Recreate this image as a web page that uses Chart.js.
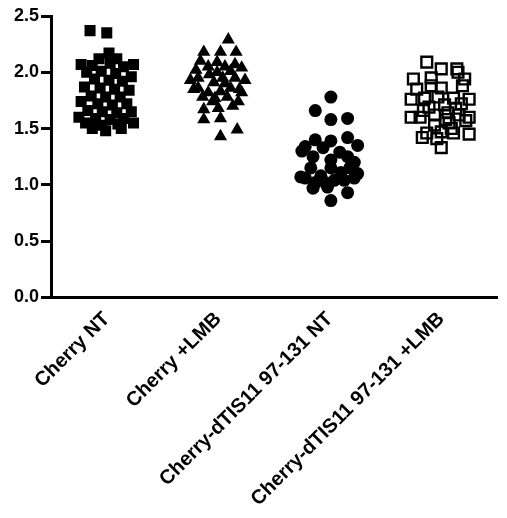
<!DOCTYPE html>
<html>
<head>
<meta charset="utf-8">
<script src="https://cdn.jsdelivr.net/npm/chart.js@4/dist/chart.umd.min.js"></script>
<style>
html,body{margin:0;padding:0;background:#fff;}
#wrap{width:507px;height:518px;}
</style>
</head>
<body>
<div id="wrap"><canvas id="c" width="507" height="518"></canvas></div>
<script>
const categories = ["Cherry NT", "Cherry +LMB", "Cherry-dTIS11 97-131 NT", "Cherry-dTIS11 97-131 +LMB"];
const yTicks = [0, 0.5, 1.0, 1.5, 2.0, 2.5];

// Cherry NT (filled squares)
const cherryNT = [2.37,2.35,2.17,2.12,2.12,2.07,2.06,2.08,2.05,2.07,2.00,2.01,1.99,1.96,1.94,1.93,1.92,1.87,1.86,1.85,1.84,1.79,1.78,1.78,1.74,1.72,1.71,1.72,1.66,1.65,1.64,1.65,1.60,1.59,1.58,1.59,1.55,1.53,1.54,1.55,1.48,1.50,1.50];
const cherryNTJitter = [-0.15,0.00,0.02,-0.07,0.09,-0.23,-0.13,0.03,0.15,0.24,-0.18,-0.05,0.08,0.22,-0.11,0.02,0.14,-0.20,-0.06,0.07,0.20,-0.14,-0.01,0.12,-0.23,-0.08,0.05,0.18,-0.17,-0.04,0.09,0.22,-0.25,-0.10,0.03,0.15,-0.19,-0.05,0.10,0.24,-0.01,-0.13,0.13];

// Cherry +LMB (filled triangles)
const cherryLMB = [2.29,2.18,2.18,2.18,2.02,2.05,2.09,2.05,2.04,1.86,1.91,1.95,1.95,1.82,1.83,1.86,1.85,1.85,1.78,1.77,1.78,1.82,1.74,1.74,1.67,1.68,1.58,1.59,1.49,1.43,1.95,2.00,2.01,2.07,2.10,1.93,1.93,1.90,1.98,1.70];
const cherryLMBJitter = [0.09,-0.13,0.02,0.16,-0.20,-0.09,-0.01,0.06,0.21,-0.18,-0.04,0.04,0.15,-0.09,0.02,0.11,0.19,-0.22,-0.14,-0.03,0.08,0.21,-0.05,0.18,-0.13,0.00,-0.13,0.02,0.17,0.02,-0.18,-0.01,0.11,0.15,-0.16,0.24,-0.25,0.06,-0.08,0.13];

// Cherry-dTIS11 97-131 NT (filled circles)
const dtisNT = [1.78,1.66,1.58,1.59,1.34,1.40,1.39,1.42,1.33,1.29,1.25,1.22,1.25,1.15,1.08,1.15,1.11,1.15,1.06,1.02,1.02,1.04,1.04,1.06,0.97,0.98,0.93,0.86,1.35,1.10,1.20,1.07,1.30];
const dtisNTJitter = [0.01,-0.13,0.01,0.16,-0.22,-0.13,0.01,0.16,-0.06,0.09,-0.15,0.01,0.16,-0.17,-0.08,0.01,0.10,0.18,-0.22,-0.13,-0.04,0.04,0.13,0.22,-0.15,-0.02,0.16,0.01,0.25,0.25,0.22,-0.26,-0.25];

// Cherry-dTIS11 97-131 +LMB (open squares)
const dtisLMB = [2.09,2.03,2.03,1.94,1.94,1.77,1.86,1.77,1.60,1.62,1.64,1.62,1.46,1.47,1.46,1.33,1.69,1.71,1.53,1.55,1.42,1.76,1.60,1.45,1.88,1.72,1.57,1.76,1.85,1.60,1.88,1.78,1.58,1.68,1.66,1.41,1.50,1.95,2.00];
const dtisLMBJitter = [-0.13,0.00,0.14,-0.25,0.21,-0.15,0.00,0.11,-0.19,-0.06,0.06,0.16,-0.13,0.00,0.11,0.00,-0.11,0.03,-0.06,0.07,-0.17,0.25,0.25,0.25,0.19,0.18,0.22,-0.27,-0.22,-0.27,-0.09,-0.03,0.04,0.13,-0.16,-0.04,0.09,-0.09,0.15];

function pts(values, jitter, idx) {
  return values.map((v, i) => ({ x: idx + jitter[i], y: v }));
}

const FONT = '"Liberation Sans", Arial, Helvetica, sans-serif';

new Chart(document.getElementById('c'), {
  type: 'scatter',
  data: {
    datasets: [
      { label: categories[0], data: pts(cherryNT, cherryNTJitter, 0), pointStyle: 'rect', pointRadius: 7.8, backgroundColor: '#000', borderColor: '#000', borderWidth: 0 },
      { label: categories[1], data: pts(cherryLMB, cherryLMBJitter, 1), pointStyle: 'triangle', pointRadius: 7.6, backgroundColor: '#000', borderColor: '#000', borderWidth: 0 },
      { label: categories[2], data: pts(dtisNT, dtisNTJitter, 2), pointStyle: 'circle', pointRadius: 6.5, backgroundColor: '#000', borderColor: '#000', borderWidth: 0 },
      { label: categories[3], data: pts(dtisLMB, dtisLMBJitter, 3), pointStyle: 'rect', pointRadius: 7.6, backgroundColor: 'rgba(0,0,0,0)', borderColor: '#000', borderWidth: 2.4 }
    ]
  },
  options: {
    responsive: false,
    animation: false,
    events: [],
    layout: { padding: { top: 16, left: 12, right: 0, bottom: 5 } },
    plugins: { legend: { display: false }, tooltip: { enabled: false } },
    scales: {
      x: {
        type: 'linear',
        min: -0.5,
        max: 3.5,
        afterBuildTicks: (axis) => { axis.ticks = categories.map((c, i) => ({ value: i })); },
        grid: { display: false },
        border: { display: true, color: '#000', width: 3 },
        ticks: {
          autoSkip: false,
          maxRotation: 45,
          minRotation: 45,
          padding: 2,
          color: '#000',
          font: { family: FONT, size: 20, weight: 'bold' },
          callback: (v) => categories[v]
        }
      },
      y: {
        min: 0,
        max: 2.5,
        afterBuildTicks: (axis) => { axis.ticks = yTicks.map(v => ({ value: v })); },
        grid: { drawOnChartArea: false, drawTicks: true, tickLength: 10, color: '#000', lineWidth: 3 },
        border: { display: true, color: '#000', width: 3 },
        ticks: {
          padding: 2,
          color: '#000',
          font: { family: FONT, size: 18, weight: 'bold' },
          callback: (v) => v.toFixed(1)
        }
      }
    }
  }
});
</script>
</body>
</html>
